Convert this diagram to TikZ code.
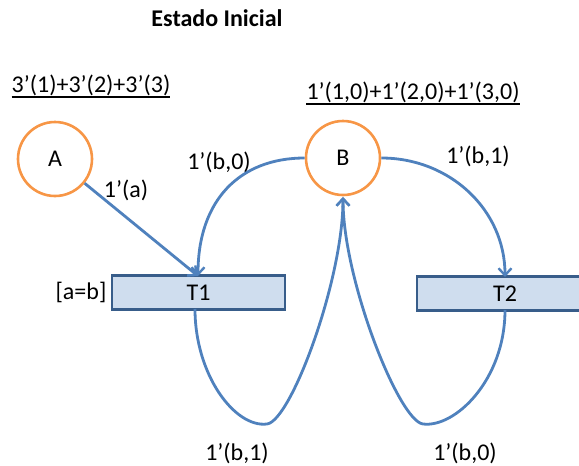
\documentclass[tikz,border=0pt]{standalone}
\usepackage{fontspec}
\setmainfont{Carlito}
\usetikzlibrary{arrows.meta}
\definecolor{placeor}{RGB}{247,150,70}
\definecolor{arcblue}{RGB}{79,129,189}
\definecolor{boxfill}{RGB}{207,221,238}
\definecolor{boxline}{RGB}{56,93,138}
\begin{document}
\begin{tikzpicture}[x=1pt,y=-1pt,
  every node/.style={font=\fontsize{24}{28}\selectfont},
  place/.style={circle,draw=placeor,line width=2.6pt,minimum size=74pt,inner sep=0pt},
  trans/.style={rectangle,draw=boxline,fill=boxfill,line width=2.4pt,minimum height=34pt,inner sep=0pt},
  arc/.style={draw=arcblue,line width=2.8pt,-{Straight Barb[length=7pt,width=13pt,line width=2.4pt]}},
  uline/.style={line width=2.2pt},
  lbl/.style={inner sep=0pt}]
\useasboundingbox (0,0) rectangle (579,466);
\node[lbl,font=\fontsize{24}{28}\selectfont\bfseries] (title) at (217,18) {Estado Inicial};
\node[lbl] (ma) at (91,85) {3’(1)+3’(2)+3’(3)};
\node[lbl] (mb) at (413,92) {1’(1,0)+1’(2,0)+1’(3,0)};
\draw[uline] ([yshift=-1pt]ma.south west) -- ([yshift=-1pt]ma.south east);
\draw[uline] ([yshift=-1pt]mb.south west) -- ([yshift=-1pt]mb.south east);
\node[place] (A) at (55,159) {A};
\node[place] (B) at (343,158) {B};
\node[trans,minimum width=173pt] (T1) at (198.5,292.5) {T1};
\node[trans,minimum width=176pt] (T2) at (505,293.5) {T2};
\node[lbl] (guard) at (81,292) {[a=b]};
\node[lbl] (la) at (126,190) {1’(a)};
\node[lbl] (lb0) at (219,162) {1’(b,0)};
\node[lbl] (lb1) at (478,156) {1’(b,1)};
\node[lbl] (lc1) at (237,453) {1’(b,1)};
\node[lbl] (lc0) at (465,453) {1’(b,0)};
\coordinate (t1top) at (198,276);
\coordinate (t2top) at (505,277);
\coordinate (t1bot) at (195,309);
\coordinate (t2bot) at (505,310);
\coordinate (bbot) at (343,197);
\coordinate (lo1) at (267,424);
\coordinate (lo2) at (423,424);
\draw[arc] (A) -- (t1top);
\draw[arc] (B.west) .. controls (240,158) and (198,200) .. (t1top);
\draw[arc] (B.east) .. controls (450,158) and (505,210) .. (t2top);
\draw[arc] (t1bot) .. controls (195,375) and (235,428) .. (lo1) .. controls (291,421) and (343,280) .. (bbot);
\draw[arc] (t2bot) .. controls (505,380) and (455,428) .. (lo2) .. controls (399,421) and (343,280) .. (bbot);
\end{tikzpicture}
\end{document}
